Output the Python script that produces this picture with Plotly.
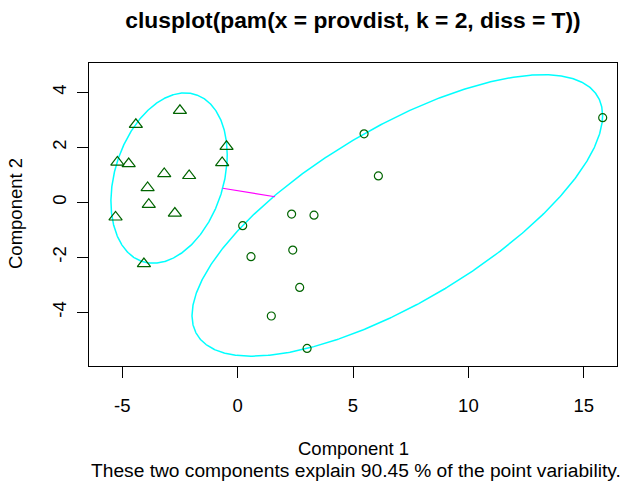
import numpy as np
import plotly.graph_objects as go

# ---- data ----
# cluster 1 (triangles)
c1_x = [-2.50, -4.41, -0.48, -5.21, -4.72, -0.67, -3.18, -2.10, -3.90, -3.85, -2.72, -5.29, -4.06]
c1_y = [3.34, 2.83, 2.03, 1.46, 1.40, 1.44, 1.04, 0.97, 0.53, -0.08, -0.40, -0.54, -2.24]
# cluster 2 (circles)
c2_x = [5.48, 6.10, 2.34, 3.31, 0.22, 2.39, 0.58, 2.69, 1.46, 3.01, 15.82]
c2_y = [2.49, 0.96, -0.43, -0.47, -0.85, -1.74, -1.98, -3.10, -4.14, -5.32, 3.08]

# spanning ellipses: centre and shape matrix
ell_cx = [-2.97, 6.92]
ell_cy = [0.88, -0.48]
ell_sxx = [6.35, 79.13]
ell_syy = [9.61, 26.25]
ell_sxy = [2.14, 32.36]

# segment joining the two ellipses
link_x = [-0.65, 1.62]
link_y = [0.51, 0.20]

x_tick_vals = [-5, 0, 5, 10, 15]
x_tick_text = ["-5", "0", "5", "10", "15"]
y_tick_vals = [-4, -2, 0, 2, 4]
y_tick_text = ["-4", "-2", "0", "2", "4"]

title_text = "clusplot(pam(x = provdist, k = 2, diss = T))"
x_title = "Component 1"
y_title = "Component 2"
sub_text = "These two components explain 90.45 % of the point variability."

# ---- figure ----
FONT = "Liberation Sans, Arial, sans-serif"
W, H = 627, 481
ML, MR, MT, MB = 89, 10, 63, 115
PH = H - MT - MB

fig = go.Figure()

t = np.linspace(0, 2 * np.pi, 721)
for cx, cy, sxx, syy, sxy in zip(ell_cx, ell_cy, ell_sxx, ell_syy, ell_sxy):
    L = np.linalg.cholesky(np.array([[sxx, sxy], [sxy, syy]]))
    ex = cx + L[0, 0] * np.cos(t)
    ey = cy + L[1, 0] * np.cos(t) + L[1, 1] * np.sin(t)
    fig.add_trace(go.Scatter(x=ex, y=ey, mode="lines",
                             line=dict(color="#00FFFF", width=1.5),
                             hoverinfo="skip", showlegend=False))

fig.add_trace(go.Scatter(x=link_x, y=link_y, mode="lines",
                         line=dict(color="#FF00FF", width=1.2),
                         hoverinfo="skip", showlegend=False))

fig.add_trace(go.Scatter(x=c1_x, y=c1_y, mode="markers", showlegend=False,
                         marker=dict(symbol="triangle-up-open", size=11.5,
                                     color="#006400", line=dict(width=1.2, color="#006400"))))
fig.add_trace(go.Scatter(x=c2_x, y=c2_y, mode="markers", showlegend=False,
                         marker=dict(symbol="circle-open", size=8,
                                     color="#006400", line=dict(width=1.2, color="#006400"))))

axis_common = dict(showline=True, mirror=True, linecolor="black", linewidth=1,
                   ticks="outside", ticklen=11, tickwidth=1, tickcolor="black",
                   showgrid=False, zeroline=False)

fig.update_xaxes(range=[-6.44, 16.44], tickvals=x_tick_vals, ticktext=x_tick_text,
                 ticklabelstandoff=12, tickfont=dict(family=FONT, size=18.5, color="black"),
                 **axis_common)
fig.update_yaxes(range=[-5.96, 5.07], tickvals=y_tick_vals, ticktext=y_tick_text,
                 tickangle=-90, ticklabelstandoff=4,
                 tickfont=dict(family=FONT, size=18.5, color="black"), **axis_common)

def py(pix):
    return (H - MB - pix) / PH

fig.update_layout(
    width=W, height=H,
    margin=dict(l=ML, r=MR, t=MT, b=MB),
    paper_bgcolor="white", plot_bgcolor="white",
    title=dict(text=title_text, x=0.5, xref="paper", y=1 - 20 / H, yref="container",
               xanchor="center", yanchor="middle",
               font=dict(family=FONT, size=22.8, color="black", weight="bold")),
    annotations=[
        dict(text=x_title, x=0.5, xref="paper", y=py(448), yref="paper",
             showarrow=False, xanchor="center", yanchor="middle",
             font=dict(family=FONT, size=18.5, color="black")),
        dict(text=sub_text, x=(356 - ML) / (W - ML - MR), xref="paper", y=py(470.5), yref="paper",
             showarrow=False, xanchor="center", yanchor="middle",
             font=dict(family=FONT, size=19.2, color="black")),
        dict(text=y_title, x=(15 - ML) / (W - ML - MR), xref="paper", y=py(214), yref="paper",
             showarrow=False, xanchor="center", yanchor="middle", textangle=-90,
             font=dict(family=FONT, size=18.5, color="black")),
    ],
)

fig.write_html("out.html")
